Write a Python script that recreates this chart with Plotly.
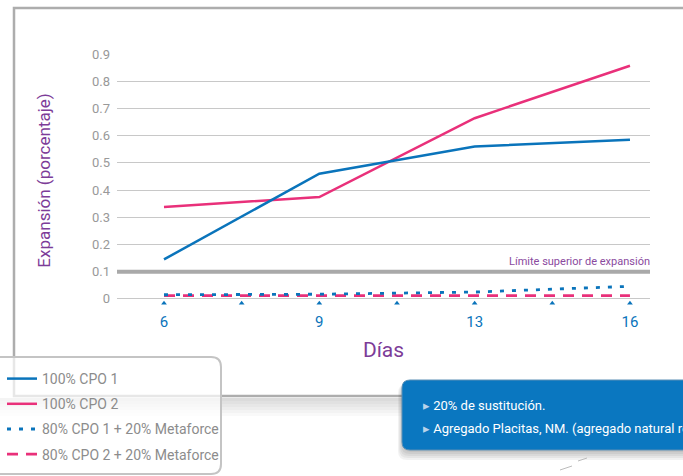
import numpy as np
import plotly.graph_objects as go

# ---- data ----
dias = ["6", "9", "13", "16"]
cpo1 = [0.145, 0.46, 0.56, 0.585]
cpo2 = [0.338, 0.374, 0.664, 0.857]
cpo1_meta = [0.015, 0.017, 0.025, 0.046]
cpo2_meta = [0.012, 0.012, 0.010, 0.012]
y_ticks = [0, 0.1, 0.2, 0.3, 0.4, 0.5, 0.6, 0.7, 0.8, 0.9]
y_tick_labels = ["0", "0.1", "0.2", "0.3", "0.4", "0.5", "0.6", "0.7", "0.8", "0.9"]
limite = 0.1
series_names = ["100% CPO 1", "100% CPO 2", "80% CPO 1 + 20% Metaforce", "80% CPO 2 + 20% Metaforce"]
notes = ["20% de sustitución.", "Agregado Placitas, NM. (agregado natural reactivo)"]

BLUE = "#0a74bb"
PINK = "#e9307a"
PURPLE = "#7d3c98"
GRAY_TXT = "#999999"
FONT = "Roboto, Lato, sans-serif"

W, H = 683, 476
L, R, T, B = 117, 33, 54, 169
PW, PH = W - L - R, H - T - B


def px(x):
    return (x - L) / PW


def py(y):
    return (H - B - y) / PH


def rounded(x0, y0, x1, y1, r):
    X0, X1 = px(x0), px(x1)
    Y0, Y1 = py(y0), py(y1)
    rx, ry = r / PW, r / PH
    return (f"M{X0+rx},{Y0} L{X1-rx},{Y0} Q{X1},{Y0} {X1},{Y0-ry} "
            f"L{X1},{Y1+ry} Q{X1},{Y1} {X1-rx},{Y1} L{X0+rx},{Y1} "
            f"Q{X0},{Y1} {X0},{Y1+ry} L{X0},{Y0-ry} Q{X0},{Y0} {X0+rx},{Y0} Z")


xi = np.arange(len(dias))

fig = go.Figure()
styles = [
    dict(color=BLUE, width=2.5, dash="solid"),
    dict(color=PINK, width=2.5, dash="solid"),
    dict(color=BLUE, width=2.8, dash="4px,8px"),
    dict(color=PINK, width=2.8, dash="11px,8px"),
]
all_vals = [cpo1, cpo2, cpo1_meta, cpo2_meta]
for i in [3, 2, 1, 0]:
    fig.add_trace(go.Scatter(
        x=xi, y=all_vals[i], mode="lines", name=series_names[i],
        line=styles[i], legendgroup=f"g{i}", legendrank=i + 1,
    ))

# small triangle tick markers at categories and midpoints
tri_x = np.arange(0, len(dias) - 0.5 + 0.01, 0.5)
fig.add_trace(go.Scatter(
    x=tri_x, y=[-0.016] * len(tri_x), mode="markers", showlegend=False,
    marker=dict(symbol="triangle-up", size=5, color=BLUE), cliponaxis=False,
    hoverinfo="skip",
))

shapes = []
# shadow of frame bottom
for k in range(6):
    shapes.append(dict(type="rect", xref="paper", yref="paper",
                       x0=px(0), x1=px(402), y0=py(398 + 3 * (k + 1)), y1=py(398),
                       fillcolor="rgba(0,0,0,0.025)", line=dict(width=0), layer="below"))
# outer frame
shapes.append(dict(type="rect", xref="paper", yref="paper",
                   x0=px(14), x1=px(700), y0=py(396), y1=py(8),
                   line=dict(color="#adadad", width=2.5), layer="below"))
# limit line
shapes.append(dict(type="line", xref="paper", yref="y", x0=0, x1=1, y0=limite, y1=limite,
                   line=dict(color="#a9a9a9", width=4), layer="above"))
# legend box
shapes.append(dict(type="path", xref="paper", yref="paper", path=rounded(-12, 357, 221, 474, 10),
                   fillcolor="rgba(255,255,255,0.7)", line=dict(color="#c4c4c4", width=2), layer="above"))
# blue box shadow
for k in range(5):
    shapes.append(dict(type="path", xref="paper", yref="paper",
                       path=rounded(402 - k, 384, 710, 452 + 2 * k, 9),
                       fillcolor="rgba(0,0,0,0.05)", line=dict(width=0), layer="above"))
# blue box
shapes.append(dict(type="path", xref="paper", yref="paper", path=rounded(402, 380, 710, 450, 8),
                   fillcolor="#0a77c0", line=dict(color="#5a8fb5", width=1), layer="above"))
# small decorative strokes
shapes.append(dict(type="line", xref="paper", yref="paper", x0=px(560), y0=py(470), x1=px(572), y1=py(466),
                   line=dict(color="#bbbbbb", width=1), layer="above"))
shapes.append(dict(type="line", xref="paper", yref="paper", x0=px(578), y0=py(461), x1=px(587), y1=py(458),
                   line=dict(color="#bbbbbb", width=1), layer="above"))

annotations = [
    dict(text="Límite superior de expansión", xref="paper", yref="y", x=px(652), y=limite,
         xanchor="right", yanchor="bottom", yshift=2, showarrow=False,
         font=dict(family=FONT, size=11, color="#8a4a9e")),
]
for note, yy in zip(notes, [405, 428]):
    annotations.append(dict(
        text=f"<span style='color:#b9d3ea'>▸</span> {note}", xref="paper", yref="paper",
        x=px(421), y=py(yy), xanchor="left", yanchor="middle", showarrow=False,
        font=dict(family=FONT, size=13, color="white")))

fig.update_layout(
    width=W, height=H,
    margin=dict(l=L, r=R, t=T, b=B, autoexpand=False),
    paper_bgcolor="white", plot_bgcolor="white",
    font=dict(family=FONT),
    showlegend=True,
    legend=dict(x=px(2), y=py(363), xanchor="left", yanchor="top",
                bgcolor="rgba(0,0,0,0)", borderwidth=0,
                font=dict(family=FONT, size=14, color="#8c8c8c"),
                tracegroupgap=4, traceorder="grouped"),
    xaxis=dict(range=[-0.3026, 3.129], tickvals=xi, ticktext=dias, showgrid=False,
               zeroline=False, showline=False, ticks="", ticklabelstandoff=4,
               tickfont=dict(family=FONT, size=15, color=BLUE),
               title=dict(text="Días", font=dict(family=FONT, size=21, color=PURPLE), standoff=12)),
    yaxis=dict(range=[-0.03, 0.9], tickvals=y_ticks, ticktext=y_tick_labels,
               showgrid=True, gridcolor="#c8c8c8", gridwidth=1, zeroline=False,
               showline=False, ticks="", ticklabelstandoff=6,
               tickfont=dict(family=FONT, size=13, color=GRAY_TXT),
               title=dict(text="Expansión (porcentaje)", font=dict(family=FONT, size=17, color=PURPLE),
                          standoff=37)),
    shapes=shapes, annotations=annotations,
)

fig.write_html("out.html", config={"displayModeBar": False},
               post_script="document.body.style.margin='0px';")
